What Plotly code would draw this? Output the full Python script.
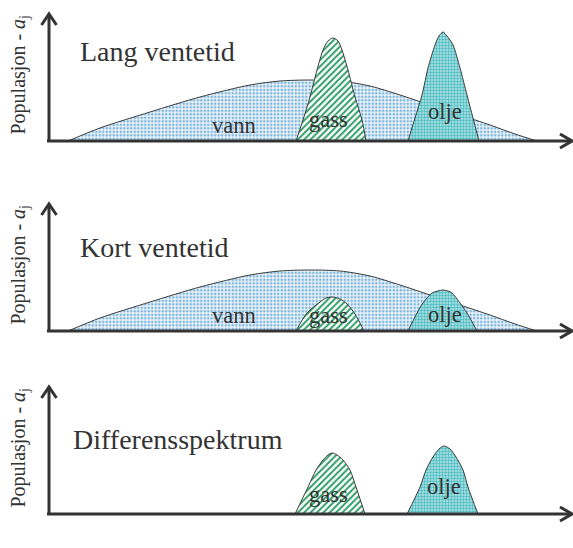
import plotly.graph_objects as go

# ---------------- data (arbitrary units) ----------------
PANEL_TITLES = ["Lang ventetid", "Kort ventetid", "Differensspektrum"]
Y_LABEL = "Populasjon - <i>a</i><sub>j</sub>"
X_LABEL = "<i>T</i><sub>2</sub> (ms)"

# water (vann) distribution, long and short wait time
VANN_T2 = [19, 51, 101, 151, 201, 231, 261, 291, 321, 351, 381, 411, 441, 466, 488]
VANN_LANG = [0, 13, 29, 44, 56, 60, 61, 60, 55, 46, 36, 26, 16, 7, 0]
VANN_KORT = [0, 13, 29, 44, 56, 60, 61, 60, 55, 46, 36, 26, 16, 7, 0]

# gas (gass) peaks
GASS_LANG_T2 = [247, 254, 261, 268, 274, 279, 284, 289, 293, 299, 306, 313, 317]
GASS_LANG = [0, 21, 44, 71, 91, 100, 103, 100, 91, 71, 44, 21, 0]
GASS_KORT_T2 = [247, 258, 271, 277, 283, 291, 298, 306, 315]
GASS_KORT = [0, 18, 29, 33, 34, 32, 27, 17, 0]
GASS_DIFF_T2 = [246, 259, 267, 274, 279, 283, 288, 294, 301, 307, 316]
GASS_DIFF = [0, 27, 44, 54, 59, 61, 59, 54, 44, 27, 0]

# oil (olje) peaks
OLJE_LANG_T2 = [359, 366, 373, 379, 386, 390, 394, 398, 404, 411, 418, 424, 430]
OLJE_LANG = [0, 23, 46, 73, 96, 105, 109, 105, 96, 73, 46, 23, 0]
OLJE_KORT_T2 = [359, 368, 374, 383, 389, 394, 399, 403, 411, 418, 428]
OLJE_KORT = [0, 18, 28, 38, 40, 41, 40, 38, 28, 18, 0]
OLJE_DIFF_T2 = [358, 371, 377, 384, 390, 395, 401, 407, 414, 419, 429]
OLJE_DIFF = [0, 27, 44, 57, 65, 68, 65, 57, 44, 27, 0]

# ---------------- styling ----------------
W, H = 573, 548
FONT = "'Liberation Serif', 'Times New Roman', Times, serif"
TXT = "#333333"
AX = "#333333"
OUT = "#3c3c3c"
BASELINES = [141, 331, 514]   # pixel rows of the three T2 axes
Y_RANGE = [-10, 130]
X_RANGE = [-49, 524]

VANN_STYLE = dict(shape=".", fgcolor="#7fb5dc", bgcolor="#edf5fa", size=3.5, solidity=0.45, fillmode="replace")
GASS_STYLE = dict(shape="/", fgcolor="#2f9d66", bgcolor="#ffffff", size=4.5, solidity=0.45, fillmode="replace")
OLJE_STYLE = dict(shape=".", fgcolor="#4bbcc2", bgcolor="#b6e5e5", size=3, solidity=0.5, fillmode="replace")

panels = [
    dict(vann=VANN_LANG, gass=(GASS_LANG_T2, GASS_LANG), olje=(OLJE_LANG_T2, OLJE_LANG),
         title_x=29, title_y=89.5, vann_lbl=(185, 15.6), gass_lbl=(279, 21.6), olje_lbl=(396, 29.6), xl_y=-19),
    dict(vann=VANN_KORT, gass=(GASS_KORT_T2, GASS_KORT), olje=(OLJE_KORT_T2, OLJE_KORT),
         title_x=29, title_y=84, vann_lbl=(185, 15.6), gass_lbl=(279, 15.6), olje_lbl=(396, 16.6), xl_y=-19),
    dict(vann=None, gass=(GASS_DIFF_T2, GASS_DIFF), olje=(OLJE_DIFF_T2, OLJE_DIFF),
         title_x=22, title_y=74.5, vann_lbl=None, gass_lbl=(279, 19.6), olje_lbl=(395, 27.6), xl_y=-22),
]

fig = go.Figure()
shapes = []
annotations = []
layout_axes = {}

for i, p in enumerate(panels):
    n = "" if i == 0 else str(i + 1)
    xa, ya = "x" + n, "y" + n
    b = BASELINES[i]
    dom = [1 - (b - Y_RANGE[0]) / H, 1 - (b - Y_RANGE[1]) / H]
    layout_axes["xaxis" + n] = dict(range=X_RANGE, domain=[0, 1], anchor=ya, visible=False, fixedrange=True)
    layout_axes["yaxis" + n] = dict(range=Y_RANGE, domain=dom, anchor=xa, visible=False, fixedrange=True)

    def area(xs, ys, style):
        fig.add_trace(go.Scatter(
            x=xs, y=ys, xaxis=xa, yaxis=ya, mode="lines", fill="toself",
            line=dict(color=OUT, width=1, shape="spline", smoothing=0.8),
            fillcolor=style["bgcolor"], fillpattern=style, hoverinfo="skip", showlegend=False))

    if p["vann"] is not None:
        area(VANN_T2, p["vann"], VANN_STYLE)
    area(p["gass"][0], p["gass"][1], GASS_STYLE)
    area(p["olje"][0], p["olje"][1], OLJE_STYLE)

    # axes with open arrow heads
    line = dict(color=AX, width=3)
    shapes += [
        dict(type="line", xref=xa, yref=ya, x0=-2, x1=522, y0=0, y1=0, line=line),
        dict(type="line", xref=xa, yref=ya, x0=0, x1=0, y0=0, y1=126, line=line),
        dict(type="path", xref=xa, yref=ya, path="M 511,7 L 523,0 L 511,-7", line=line),
        dict(type="path", xref=xa, yref=ya, path="M -7.5,116 L 0,127 L 7.5,116", line=line),
    ]

    annotations.append(dict(xref=xa, yref=ya, x=p["title_x"], y=p["title_y"], text=PANEL_TITLES[i],
                            xanchor="left", yanchor="middle", showarrow=False,
                            font=dict(family=FONT, size=28, color=TXT)))
    annotations.append(dict(xref=xa, yref=ya, x=-30.5, y=66, text=Y_LABEL, textangle=-90,
                            xanchor="center", yanchor="middle", showarrow=False,
                            font=dict(family=FONT, size=20, color=TXT)))
    annotations.append(dict(xref=xa, yref=ya, x=209.5, y=p["xl_y"], text=X_LABEL,
                            xanchor="center", yanchor="middle", showarrow=False,
                            font=dict(family=FONT, size=21, color=TXT)))
    for key, label in (("vann_lbl", "vann"), ("gass_lbl", "gass"), ("olje_lbl", "olje")):
        if p[key] is not None:
            annotations.append(dict(xref=xa, yref=ya, x=p[key][0], y=p[key][1], text=label,
                                    xanchor="center", yanchor="middle", showarrow=False,
                                    font=dict(family=FONT, size=22.5, color=TXT)))

fig.update_layout(
    width=W, height=H, margin=dict(l=0, r=0, t=0, b=0),
    paper_bgcolor="white", plot_bgcolor="rgba(0,0,0,0)",
    font=dict(family=FONT, color=TXT),
    shapes=shapes, annotations=annotations, **layout_axes,
)
fig.write_html("out.html", config=dict(displayModeBar=False))
